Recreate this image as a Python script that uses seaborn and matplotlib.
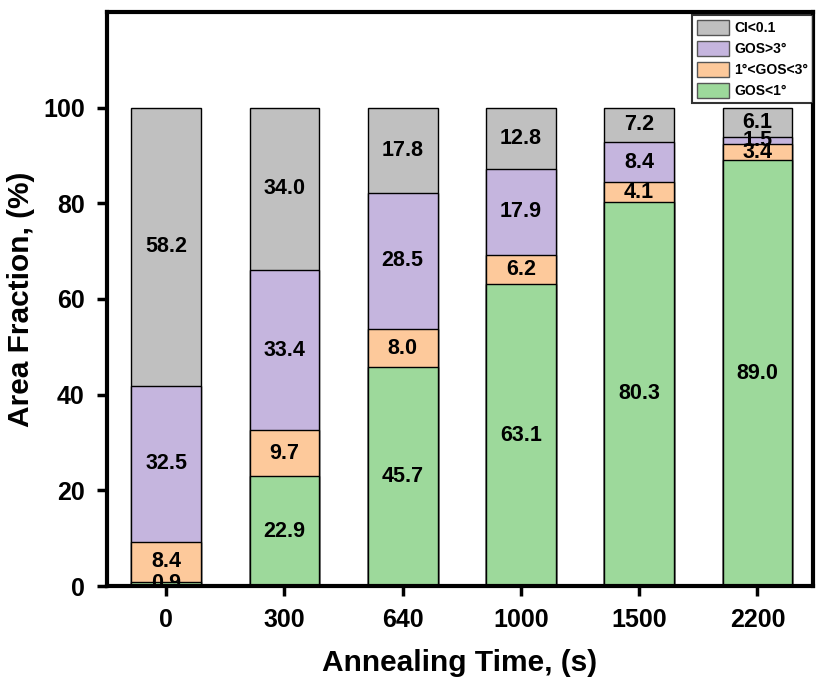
import matplotlib
matplotlib.use('Agg')
import matplotlib.pyplot as plt
import matplotlib.patches as mpatches
import numpy as np
import pandas as pd
import seaborn as sns

# Data
times = ['0', '300', '640', '1000', '1500', '2200']
gos_lt1 = [0.9, 22.9, 45.7, 63.1, 80.3, 89.0]
gos_1to3 = [8.4, 9.7, 8.0, 6.2, 4.1, 3.4]
gos_gt3 = [32.5, 33.4, 28.5, 17.9, 8.4, 1.5]
ci_lt01 = [58.2, 34.0, 17.8, 12.8, 7.2, 6.1]

layer_names = ['GOS<1°', '1°<GOS<3°', 'GOS>3°', 'CI<0.1']
layer_colors = ['#9dd99b', '#fdc99b', '#c5b5de', '#c0c0c0']

sns.set_style('ticks')
plt.rcParams['font.family'] = ['Liberation Sans', 'DejaVu Sans']
plt.rcParams['font.weight'] = 'bold'
plt.rcParams['text.color'] = 'black'
plt.rcParams['axes.labelcolor'] = 'black'
plt.rcParams['xtick.color'] = 'black'
plt.rcParams['ytick.color'] = 'black'
plt.rcParams['axes.edgecolor'] = 'black'

layers = [gos_lt1, gos_1to3, gos_gt3, ci_lt01]
cum = np.cumsum(np.array(layers), axis=0)

fig = plt.figure(figsize=(8.35, 6.93), dpi=100)
ax = fig.add_axes([107/835, 1-586/693, (813-107)/835, (586-12)/693])

# stacked bars: draw cumulative totals from top layer down
for k in range(len(layers)-1, -1, -1):
    df = pd.DataFrame({'Time': times, 'Value': cum[k]})
    sns.barplot(data=df, x='Time', y='Value', order=times, color=layer_colors[k],
                saturation=1, width=0.59, edgecolor='black', linewidth=1.0, ax=ax)

# value labels at segment centres
for k, vals in enumerate(layers):
    for i, v in enumerate(vals):
        mid = cum[k][i] - v/2
        ax.text(i, mid, f'{v:.1f}', ha='center', va='center', fontsize=15.5,
                fontweight='bold', color='black', clip_on=True)

ax.set_ylim(0, 120)
ax.set_xlim(-0.5, 5.47)
ax.set_yticks([0, 20, 40, 60, 80, 100])
ax.tick_params(axis='both', direction='out', length=7, width=2.5, labelsize=18,
               pad=9, colors='black')
for lab in ax.get_xticklabels() + ax.get_yticklabels():
    lab.set_fontweight('bold')
for sp in ax.spines.values():
    sp.set_visible(True)
    sp.set_linewidth(3)
    sp.set_color('black')

ax.set_xlabel('Annealing Time, (s)', fontsize=21.5, fontweight='bold', labelpad=12)
ax.set_ylabel('Area Fraction, (%)', fontsize=21.5, fontweight='bold', labelpad=6)

handles = [mpatches.Patch(facecolor=layer_colors[k], edgecolor='#555555', label=layer_names[k])
           for k in range(3, -1, -1)]
leg = ax.legend(handles=handles, loc='upper right', bbox_to_anchor=(1.0, 0.995),
                fontsize=10, frameon=True, fancybox=False, handlelength=2.3,
                handleheight=1.3, borderpad=0.35, labelspacing=0.42, handletextpad=0.4,
                borderaxespad=0)
leg.get_frame().set_edgecolor('black')
leg.get_frame().set_linewidth(1.5)
for t in leg.get_texts():
    t.set_fontweight('bold')

fig.savefig('out.png', dpi=100)
